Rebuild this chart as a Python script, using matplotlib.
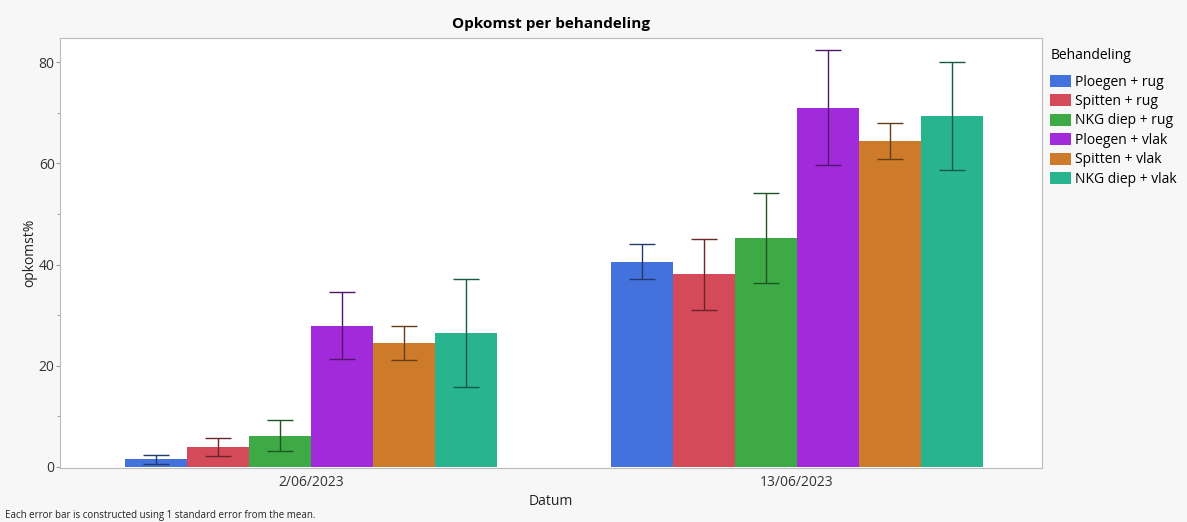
import numpy as np
import matplotlib
matplotlib.use('Agg')
from matplotlib import pyplot as plt
from matplotlib.ticker import MultipleLocator
from matplotlib.colors import to_rgb

plt.rcParams['font.family'] = ['Open Sans', 'DejaVu Sans']

dates = ['2/06/2023', '13/06/2023']
treatments = ['Ploegen + rug', 'Spitten + rug', 'NKG diep + rug',
              'Ploegen + vlak', 'Spitten + vlak', 'NKG diep + vlak']
means = [
  [1.5, 40.6],
  [3.9, 38.1],
  [6.2, 45.3],
  [27.9, 71.0],
  [24.5, 64.4],
  [26.5, 69.4],
]
stderr = [
  [0.9, 3.5],
  [1.8, 7.0],
  [3.0, 8.9],
  [6.6, 11.4],
  [3.3, 3.5],
  [10.7, 10.7],
]
colors = ['#4472DC', '#D44A58', '#3DAA45', '#A12BDB', '#CD7A2A', '#27B48E']

def darker(c, f=0.5):
  return tuple(v * f for v in to_rgb(c))

fig = plt.figure(figsize=(11.87, 5.22), dpi=100, facecolor='#F7F7F7')
ax = fig.add_axes([60/1187, 1 - 468/522, 982/1187, 430/522])
ax.set_facecolor('white')

x = np.arange(len(dates))
w = 0.1276
for i, (name, m, e, c) in enumerate(zip(treatments, means, stderr, colors)):
  pos = x + (i - 2.5) * w
  ax.bar(pos, m, width=w, color=c, label=name, zorder=2)
  ax.errorbar(pos, m, yerr=e, fmt='none', ecolor=darker(c), elinewidth=1,
              capsize=9.5, capthick=1, zorder=3)

ax.set_xlim(-0.516, 1.504)
ax.set_ylim(-0.2, 84.8)
ax.set_xticks(x)
ax.set_xticklabels(dates, fontsize=10, color='#333333')
ax.yaxis.set_major_locator(MultipleLocator(20))
ax.yaxis.set_minor_locator(MultipleLocator(10))
ax.tick_params(axis='y', labelsize=10, colors='#999999', labelcolor='#333333',
               length=3, pad=0.8)
ax.tick_params(axis='y', which='minor', colors='#999999', length=2)
ax.tick_params(axis='x', length=0, pad=5)
for s in ax.spines.values():
  s.set_color('#BBBBBB')

ax.set_ylabel('opkomst%', fontsize=10, color='#222222', labelpad=1, fontweight='medium')
ax.set_xlabel('Datum', fontsize=10, color='#222222', labelpad=3)
ax.set_title('Opkomst per behandeling', fontsize=11, fontweight='bold', pad=7)

leg = ax.legend(title='Behandeling', loc='upper left', bbox_to_anchor=(1.0, 0.995),
                frameon=False, fontsize=10, title_fontsize=10, handlelength=1.5,
                handleheight=0.95, labelspacing=0.32, handletextpad=0.25,
                borderaxespad=0.2)
leg._legend_box.align = 'left'
leg._legend_box.sep = 8

fig.text(0.004, 0.001, 'Each error bar is constructed using 1 standard error from the mean.',
         fontsize=7, color='#222222', va='bottom')

fig.savefig('out.png', dpi=100, facecolor=fig.get_facecolor())
